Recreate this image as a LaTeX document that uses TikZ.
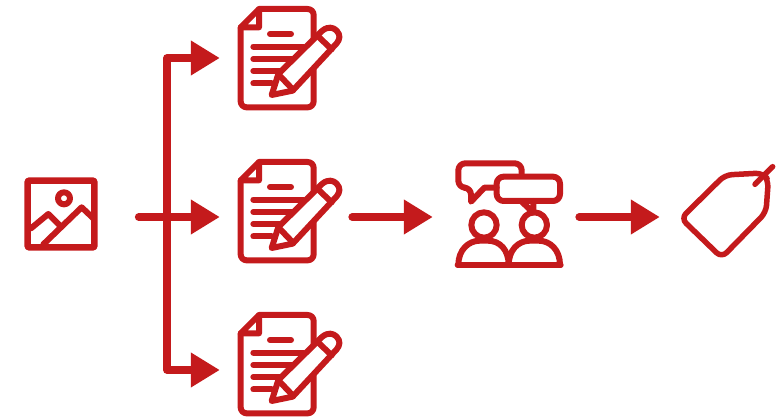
\documentclass[tikz,border=0pt]{standalone}
\usetikzlibrary{arrows.meta,calc}
\definecolor{iconred}{HTML}{C41A1C}
\tikzset{
  iconbox/.style={inner sep=0pt,minimum width=#1},
  flow/.style={draw=iconred,line width=7.7pt,line cap=round,line join=round,-{Triangle[length=29pt,width=33pt]}},
  ink/.style={draw=iconred,line width=#1,line cap=round,line join=round,fill=none},
  ink/.default=6pt,
  zoomed/.style={x=0.33333pt,y=-0.33333pt},
  docicon/.pic={
    \begin{scope}[zoomed]
      \draw[ink,rounded corners=6pt] (102,27) -- (266,27) -- (266,322) -- (47,322) -- (47,82);
      \draw[ink] (47,82) -- (102,27) -- (102,82) -- cycle;
      \draw[ink] (135,102) -- (198,102);
      \draw[ink] (85,140) -- (235,140);
      \draw[ink] (85,177) -- (205,177);
      \draw[ink] (85,213) -- (170,213);
      \draw[ink] (85,250) -- (140,250);
      \draw[ink,fill=white] (140,285) -- (160,222) -- (292,92) .. controls (310,78) and (325,82) .. (335,92) .. controls (347,105) and (345,118) .. (335,130) -- (203,272) -- cycle;
      \draw[ink] (278,108) -- (320,148);
      \draw[ink] (165,228) -- (203,268);
    \end{scope}
  },
  imgicon/.pic={
    \begin{scope}[zoomed]
      \draw[ink=6.5pt,rounded corners=1pt] (38,47) rectangle (238,247);
      \draw[ink=6pt] (147,100) circle (18);
      \draw[ink=6pt] (48,190) -- (100,147) -- (135,182);
      \draw[ink=6pt] (85,238) -- (200,127) -- (235,160);
    \end{scope}
  },
  talkicon/.pic={
    \begin{scope}[zoomed]
      \draw[ink,rounded corners=7pt] (230,70) -- (230,40) -- (40,40) -- (40,113) -- (78,113) [sharp corners] -- (78,155) -- (118,113) -- (155,113);
      \draw[ink,rounded corners=7pt] (155,80) rectangle (345,153);
      \draw[ink] (228,153) -- (265,188) -- (265,153);
      \draw[ink] (117,225) circle (38);
      \draw[ink] (268,225) circle (38);
      \draw[ink] (38,345) -- (347,345);
      \draw[ink] (40,345) .. controls (40,300) and (70,272) .. (105,272) -- (128,272) .. controls (165,272) and (191,300) .. (191,345);
      \draw[ink] (191,345) .. controls (191,300) and (220,272) .. (255,272) -- (280,272) .. controls (316,272) and (345,300) .. (345,345);
    \end{scope}
  },
  tagicon/.pic={
    \begin{scope}[zoomed]
      \draw[ink=5.5pt,rounded corners=7pt] (33,190) -- (165,60) -- (278,54) -- (295,75) -- (288,172) -- (155,308) -- cycle;
      \draw[ink=5.5pt] (255,88) -- (308,35);
    \end{scope}
  },
}
\begin{document}
\begin{tikzpicture}[x=1pt,y=-1pt]
  \useasboundingbox (0,0) rectangle (781,419);
  % icon frames
  \node[iconbox=73pt,minimum height=73pt] (img) at (61,214) {};
  \node[iconbox=104pt,minimum height=104pt] (doca) at (290,58) {};
  \node[iconbox=104pt,minimum height=104pt] (docb) at (290,211) {};
  \node[iconbox=104pt,minimum height=104pt] (docc) at (290,364) {};
  \node[iconbox=108pt,minimum height=107pt] (talk) at (509,213) {};
  \node[iconbox=92pt,minimum height=92pt] (tag) at (729,210) {};
  \coordinate (mainline) at (0,217);
  \coordinate (topline) at (0,58);
  \coordinate (lowline) at (0,370);
  \coordinate (hub) at (167,217);
  % icons
  \pic at (15,165) {imgicon};
  \pic at (225,0) {docicon};
  \pic at (225,153) {docicon};
  \pic at (225,306) {docicon};
  \pic at (445,150) {talkicon};
  \pic at (670,155) {tagicon};
  % connectors
  \draw[flow,shorten <=41pt,shorten >=18pt] (img.east |- mainline) -- (docb.west |- mainline);
  \draw[flow,shorten >=18pt,line cap=butt] (hub) |- (doca.west |- topline);
  \draw[flow,shorten >=18pt,line cap=butt] (hub) |- (docc.west |- lowline);
  \draw[flow,shorten <=10pt,shorten >=22pt] (docb.east |- mainline) -- (talk.west |- mainline);
  \draw[flow,shorten <=16pt,shorten >=23pt] (talk.east |- mainline) -- (tag.west |- mainline);
\end{tikzpicture}
\end{document}
